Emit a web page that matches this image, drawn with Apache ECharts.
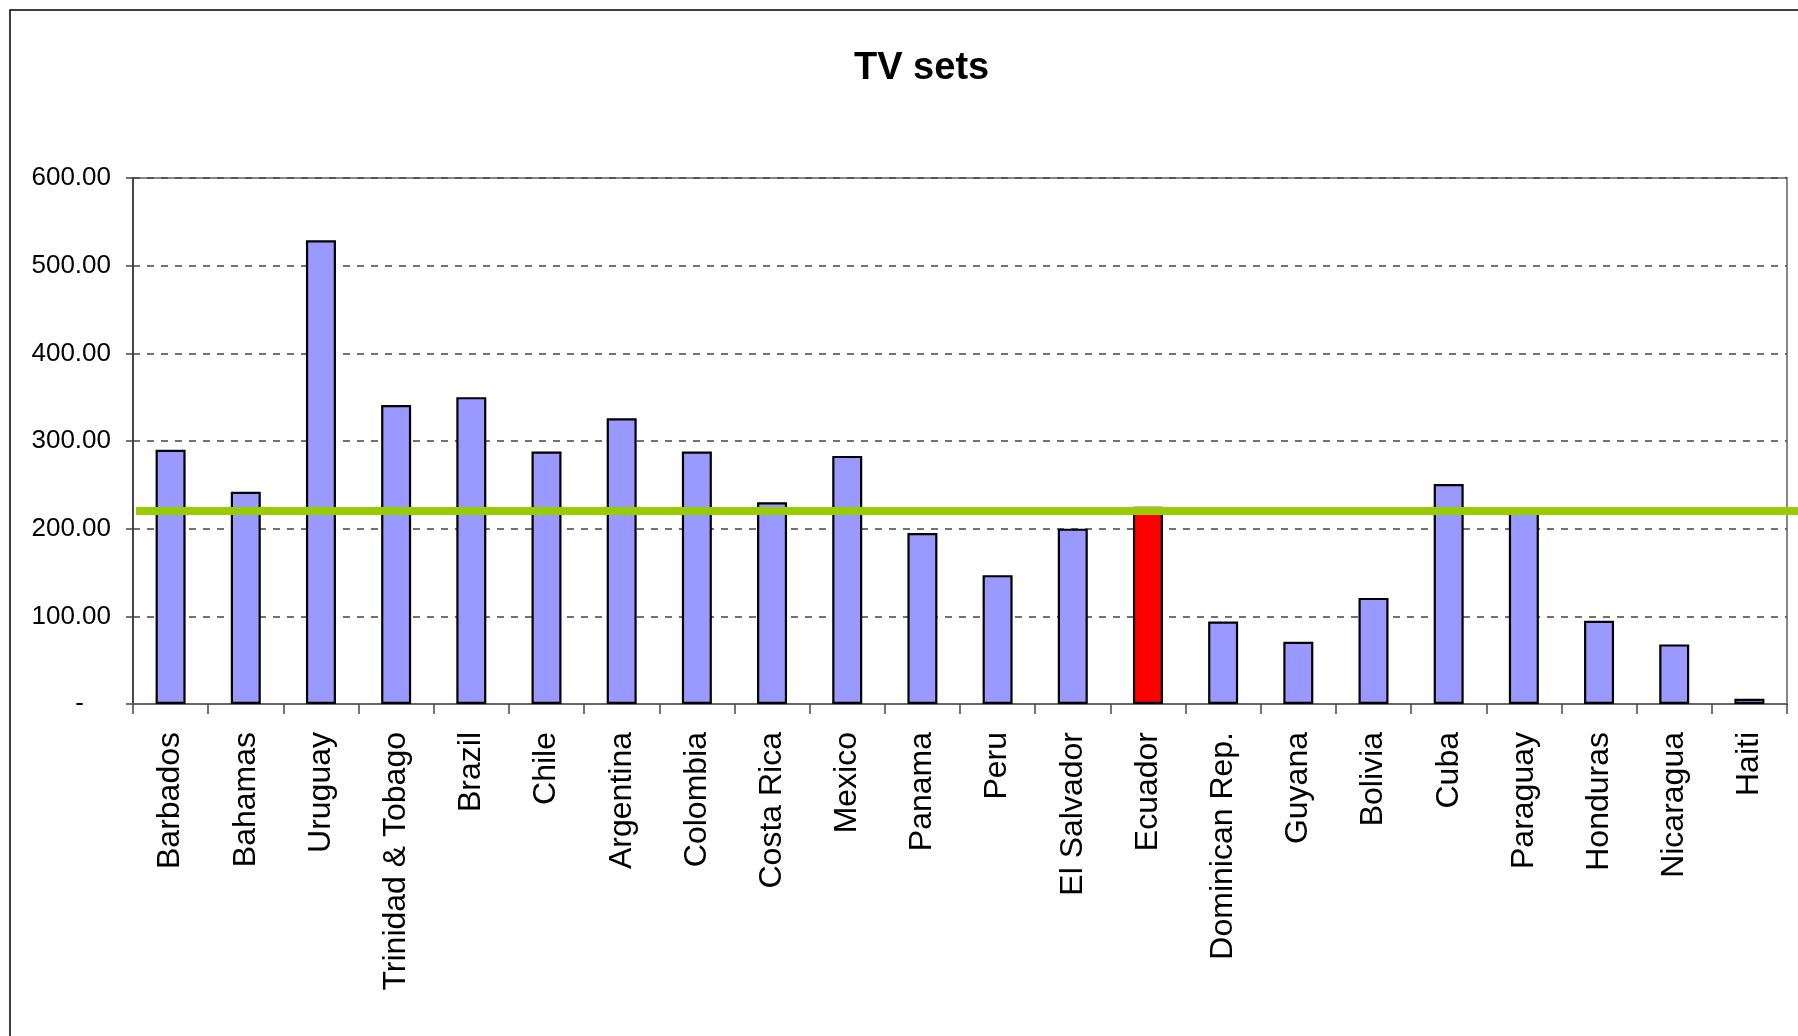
<!DOCTYPE html>
<html>
<head>
<meta charset="utf-8">
<script src="https://cdn.jsdelivr.net/npm/echarts@6/dist/echarts.min.js"></script>
<style>
html,body{margin:0;padding:0;background:#fff;}
#c{width:1798px;height:1036px;}
</style>
</head>
<body>
<div id="c"></div>
<script>
const categories = ["Barbados","Bahamas","Uruguay","Trinidad & Tobago","Brazil","Chile","Argentina","Colombia","Costa Rica","Mexico","Panama","Peru","El Salvador","Ecuador","Dominican Rep.","Guyana","Bolivia","Cuba","Paraguay","Honduras","Nicaragua","Haiti"];
const tvSets = [290,242,529,341,350,288,326,288,230,283,195,147,200,225,94,71,121,251,219,95,68,6];
const highlighted = "Ecuador";
const yTicks = [0,100,200,300,400,500,600];

const FONT = "'Liberation Sans', Arial, sans-serif";
const avg = tvSets.reduce((a,b)=>a+b,0)/tvSets.length;
const gridLeft = 133, gridRight = 11, gridTop = 178, gridBottom = 332;

const chart = echarts.init(document.getElementById('c'), null, {renderer:'canvas'});
chart.setOption({
  animation:false,
  backgroundColor:'#fff',
  graphic:[{type:'rect', shape:{x:10, y:10, width:2000, height:2000}, style:{fill:'none', stroke:'#000', lineWidth:1.5}, silent:true, z:-10}],
  title:{text:'TV sets', left:854, top:50, padding:0,
    textStyle:{fontFamily:FONT, fontSize:38, fontWeight:'bold', color:'#000'}},
  grid:{left:gridLeft, right:gridRight, top:gridTop, bottom:gridBottom, show:true, borderColor:'#888', borderWidth:2, backgroundColor:'transparent'},
  xAxis:{type:'category', data:categories, boundaryGap:true,
    axisLine:{show:true, lineStyle:{color:'#666', width:2}},
    axisTick:{show:true, length:10, alignWithLabel:false, lineStyle:{color:'#444', width:1.5}},
    axisLabel:{interval:0, rotate:90, margin:28, fontFamily:FONT, fontSize:32, color:'#000'},
    splitLine:{show:false}},
  yAxis:{type:'value', min:yTicks[0], max:yTicks[yTicks.length-1], interval:100,
    axisLine:{show:true, lineStyle:{color:'#333', width:1.5}},
    axisTick:{show:true, length:7, inside:false, lineStyle:{color:'#444', width:1.5}},
    axisLabel:{margin:22, fontFamily:FONT, fontSize:26, color:'#000',
      formatter:function(v){ return v===0 ? '{z|-}' : v.toFixed(2); },
      rich:{z:{fontFamily:FONT, fontSize:26, color:'#000', padding:[0,27,0,0]}}},
    splitLine:{show:true, lineStyle:{color:'#444', width:1.5, type:[7,7]}}},
  series:[{
    type:'bar', clip:false,
    data:tvSets.map((v,i)=>({value:v, itemStyle:{color: categories[i]===highlighted ? '#FF0000' : '#9999FF'}})),
    barWidth:30,
    itemStyle:{borderColor:'#000', borderWidth:2.2},
    emphasis:{disabled:true},
    markLine:{silent:true, symbol:['none','none'], label:{show:false},
      lineStyle:{color:'#99CC00', width:8, type:'solid'},
      emphasis:{disabled:true},
      data:[[{yAxis:avg, x:gridLeft+3}, {yAxis:avg, x:'100%'}]]}
  }]
});
</script>
</body>
</html>
